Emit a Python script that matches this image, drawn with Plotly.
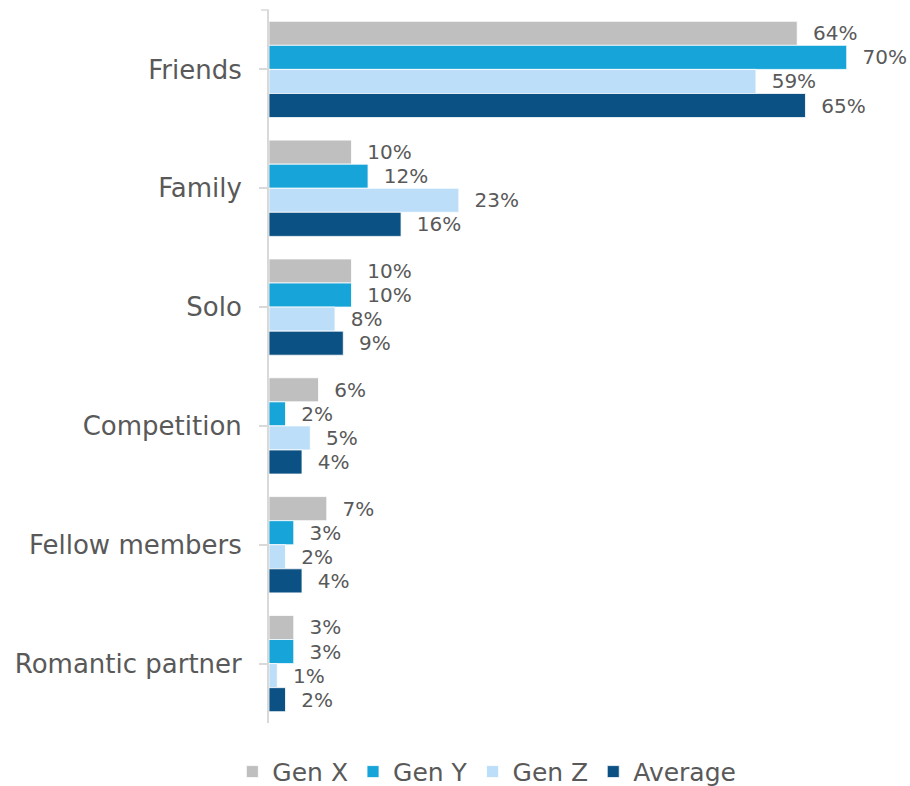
import plotly.graph_objects as go

categories = ["Friends", "Family", "Solo", "Competition", "Fellow members", "Romantic partner"]
gen_x = [64, 10, 10, 6, 7, 3]
gen_y = [70, 12, 10, 2, 3, 3]
gen_z = [59, 23, 8, 5, 2, 1]
average = [65, 16, 9, 4, 4, 2]

series = [
    ("Gen X", gen_x, "#BFBFBF"),
    ("Gen Y", gen_y, "#17A4D9"),
    ("Gen Z", gen_z, "#BCDEF8"),
    ("Average", average, "#0B5183"),
]

FONT = "DejaVu Sans"
TEXT_GREY = "#595959"

fig = go.Figure()
for name, vals, color in series:
    fig.add_trace(go.Bar(
        name=name,
        y=categories,
        x=vals,
        orientation="h",
        marker=dict(color=color, line=dict(color="white", width=0.8)),
        texttemplate="\u00a0\u00a0%{x}%",
        textposition="outside",
        textfont=dict(family=FONT, size=20, color=TEXT_GREY),
        cliponaxis=False,
        constraintext="none",
    ))

fig.update_layout(
    width=910,
    height=786,
    margin=dict(l=269, r=22, t=10, b=63),
    paper_bgcolor="white",
    plot_bgcolor="white",
    barmode="group",
    bargap=0.19,
    bargroupgap=0,
    font=dict(family=FONT, color=TEXT_GREY),
    showlegend=True,
    legend=dict(
        orientation="h",
        xref="container", yref="container",
        x=0.535, xanchor="center",
        y=0.018, yanchor="middle",
        font=dict(family=FONT, size=25, color=TEXT_GREY),
        itemclick=False,
    ),
    xaxis=dict(range=[0, 75], visible=False, showgrid=False, zeroline=False),
    yaxis=dict(
        autorange="reversed",
        showline=True,
        linecolor="#D9D9D9",
        linewidth=2,
        ticks="outside",
        ticklen=8,
        tickwidth=1.5,
        tickcolor="#D9D9D9",
        ticklabelstandoff=12,
        tickfont=dict(family=FONT, size=26, color=TEXT_GREY),
        showgrid=False,
        zeroline=False,
    ),
    shapes=[dict(
        type="line",
        xref="paper", yref="paper",
        xsizemode="pixel", xanchor=0,
        x0=-8, x1=0, y0=1, y1=1,
        line=dict(color="#D9D9D9", width=1.5),
    )],
)

fig.write_html("out.html")
